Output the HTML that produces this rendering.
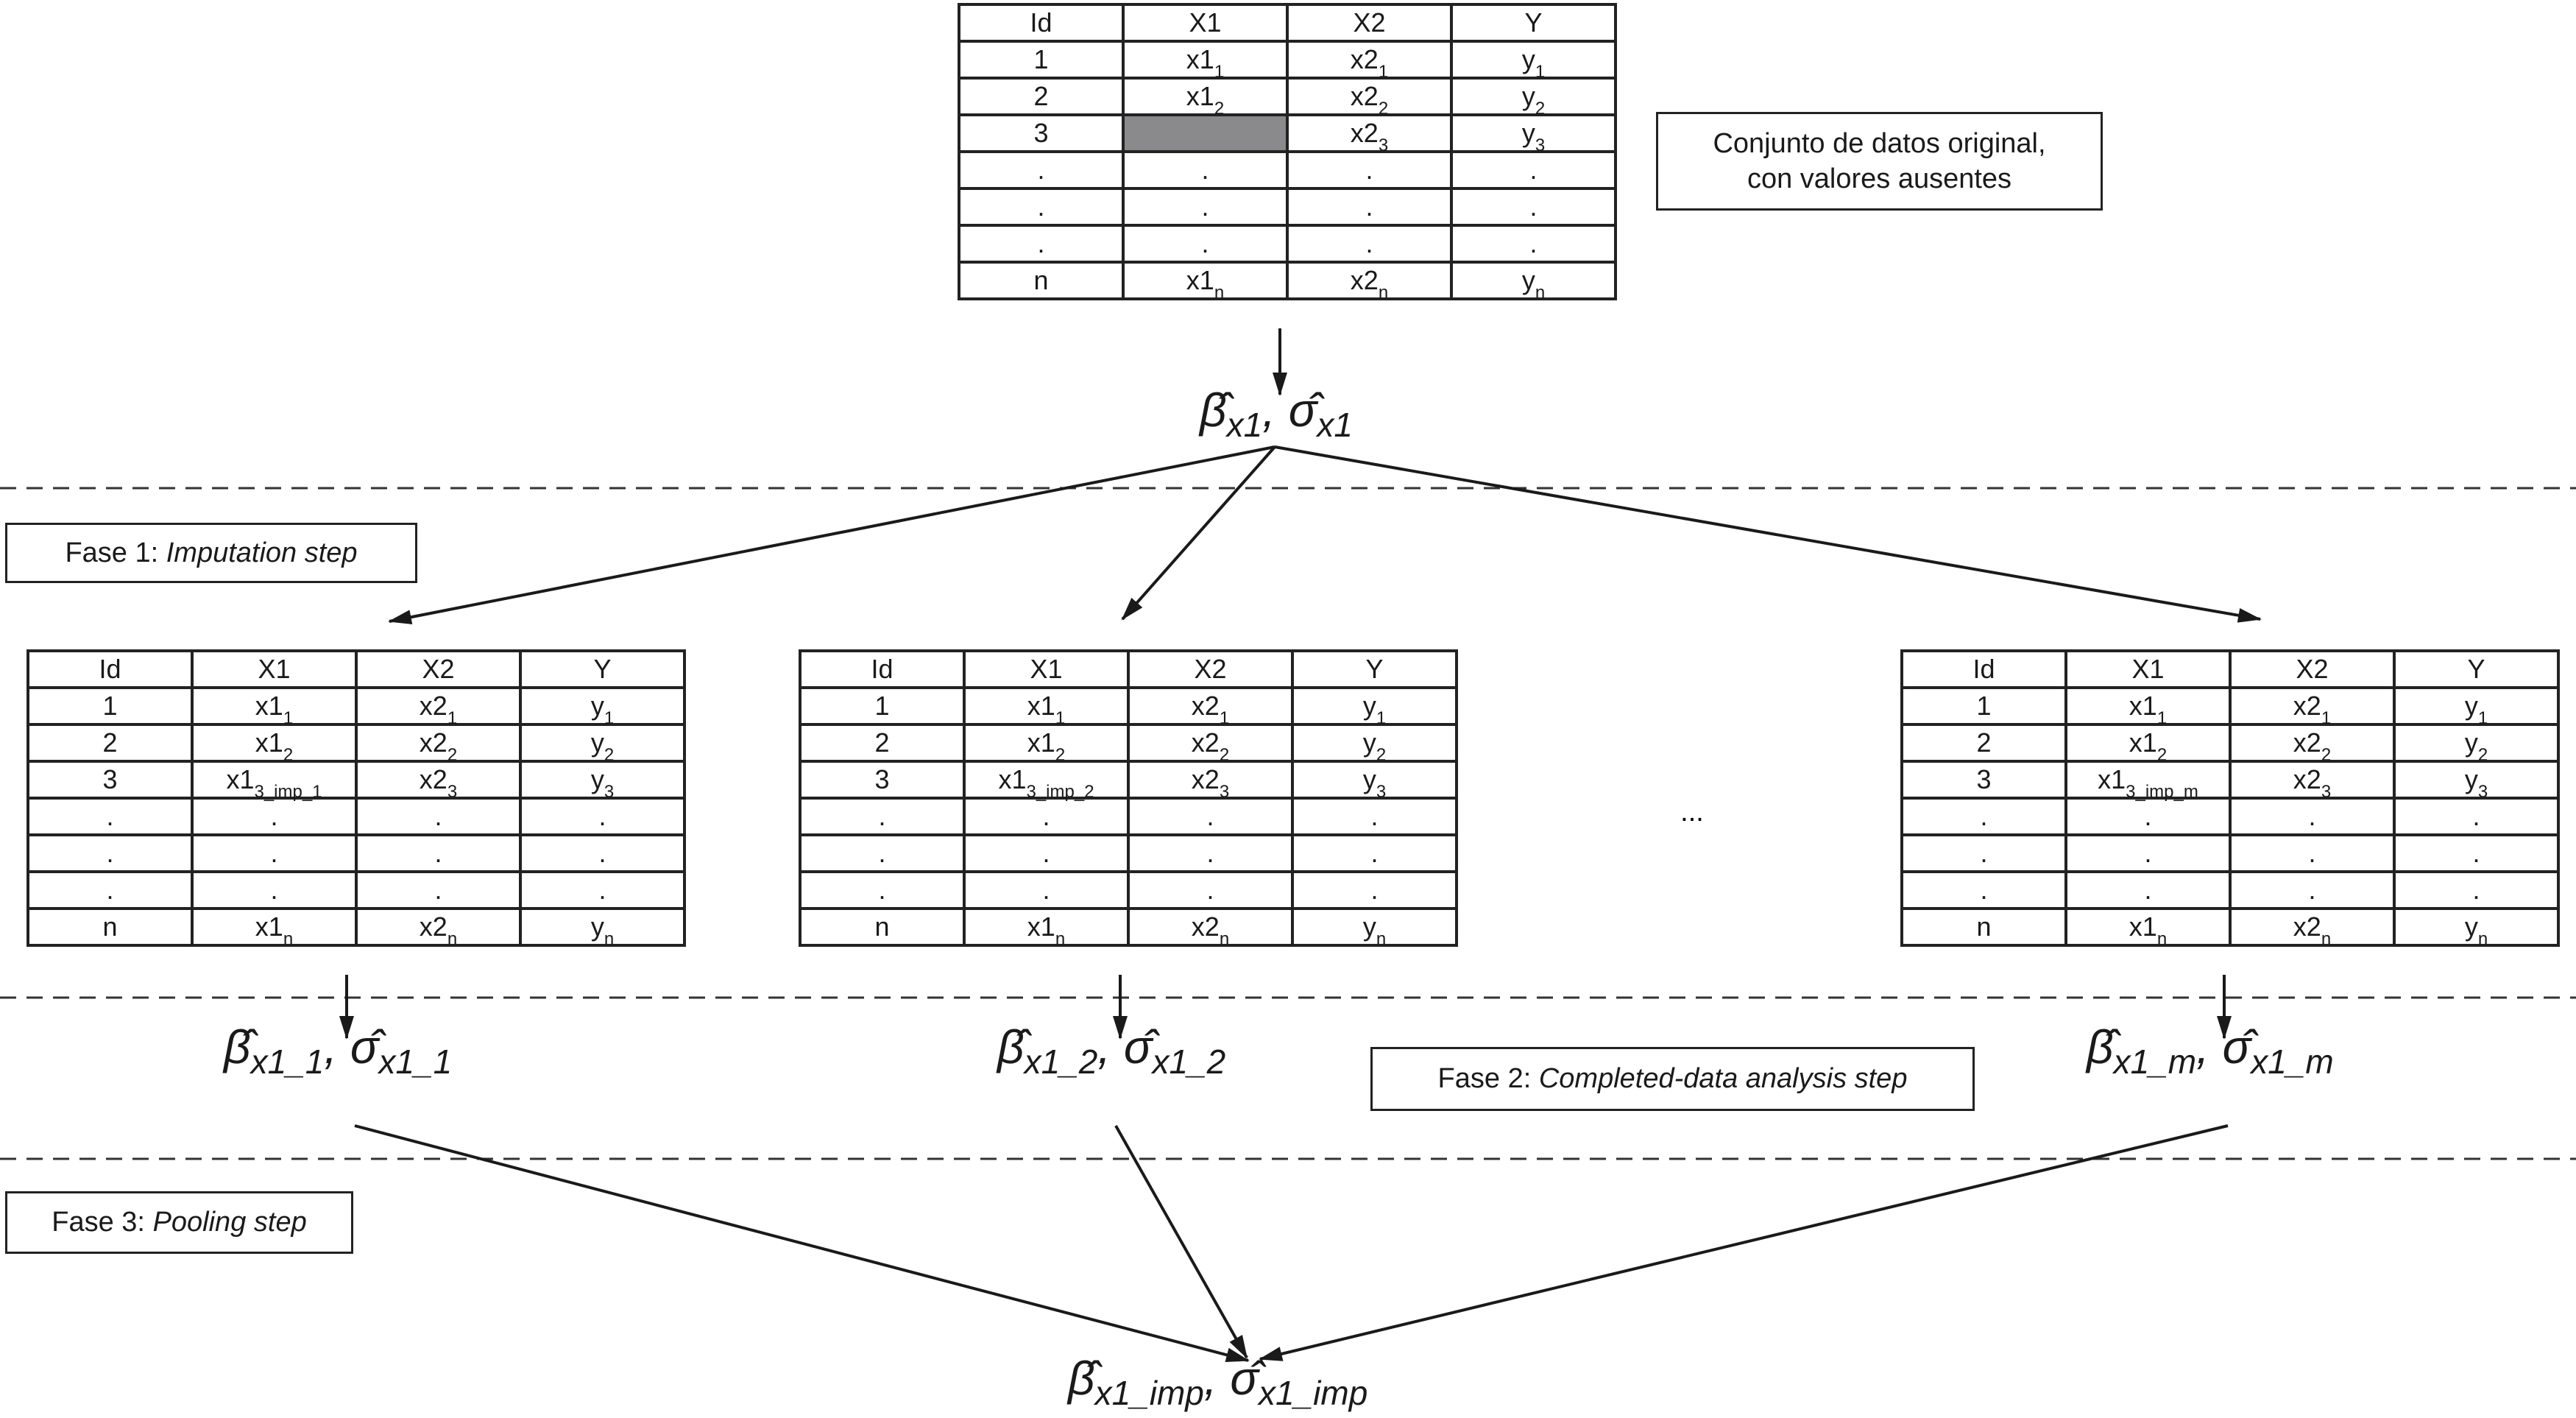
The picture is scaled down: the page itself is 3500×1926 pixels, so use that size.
<!DOCTYPE html>
<html><head><meta charset="utf-8"><style>
html,body{margin:0;padding:0;background:#fff}
body{width:3500px;height:1926px;position:relative;overflow:hidden;font-family:"Liberation Sans",sans-serif;color:#1a1a1a}
table{position:absolute;border-collapse:collapse;table-layout:fixed}
td{border:4px solid #222;height:46px;padding:0;text-align:center;font-size:36px;line-height:46px;width:219px}
sub{font-size:24px;vertical-align:-12px;line-height:0}
.box{position:absolute;border:3px solid #222;background:#fff;font-size:38px;text-align:center;box-sizing:border-box}
.m{position:absolute;font-style:italic;font-size:64px;white-space:nowrap;line-height:1}
.m sub{font-size:46px;vertical-align:-14px}
.g{background:#8a8a8c}
svg{position:absolute;left:0;top:0}
</style></head><body>
<svg width="3500" height="1926">
<defs><marker id="a" markerWidth="10" markerHeight="10" refX="9" refY="5" orient="auto" markerUnits="userSpaceOnUse" viewBox="0 0 10 10"><path d="M0,0 L10,5 L0,10 z" fill="#1a1a1a"/></marker>
<marker id="b" markerWidth="32" markerHeight="32" refX="30" refY="16" orient="auto" markerUnits="userSpaceOnUse"><path d="M0,6 L32,16 L0,26 z" fill="#1a1a1a"/></marker></defs>
<g stroke="#333" stroke-width="3" stroke-dasharray="22,14">
<line x1="0" y1="663" x2="3500" y2="663"/><line x1="0" y1="1355" x2="3500" y2="1355"/><line x1="0" y1="1574" x2="3500" y2="1574"/></g>
<g stroke="#1a1a1a" stroke-width="4" fill="none" marker-end="url(#b)">
<line x1="1739" y1="446" x2="1739" y2="536"/>
<line x1="1732" y1="607" x2="529" y2="844"/>
<line x1="1732" y1="607" x2="1525" y2="841"/>
<line x1="1732" y1="607" x2="3071" y2="841"/>
<line x1="471" y1="1324" x2="471" y2="1410"/>
<line x1="1522" y1="1324" x2="1522" y2="1410"/>
<line x1="3022" y1="1324" x2="3022" y2="1410"/>
<line x1="482" y1="1529" x2="1696" y2="1848"/>
<line x1="1516" y1="1529" x2="1694" y2="1844"/>
<line x1="3027" y1="1529" x2="1712" y2="1846"/>
</g>
<text x="2299" y="1115" font-size="38" text-anchor="middle" font-family="Liberation Sans">...</text>
</svg>

<table style="left:1301px;top:4px"><tr><td>Id</td><td>X1</td><td>X2</td><td>Y</td></tr>
<tr><td>1</td><td>x1<sub>1</sub></td><td>x2<sub>1</sub></td><td>y<sub>1</sub></td></tr>
<tr><td>2</td><td>x1<sub>2</sub></td><td>x2<sub>2</sub></td><td>y<sub>2</sub></td></tr>
<tr><td>3</td><td class="g"></td><td>x2<sub>3</sub></td><td>y<sub>3</sub></td></tr>
<tr><td>.</td><td>.</td><td>.</td><td>.</td></tr><tr><td>.</td><td>.</td><td>.</td><td>.</td></tr><tr><td>.</td><td>.</td><td>.</td><td>.</td></tr>
<tr><td>n</td><td>x1<sub>n</sub></td><td>x2<sub>n</sub></td><td>y<sub>n</sub></td></tr></table>

<table style="left:36px;top:882px"><tr><td>Id</td><td>X1</td><td>X2</td><td>Y</td></tr>
<tr><td>1</td><td>x1<sub>1</sub></td><td>x2<sub>1</sub></td><td>y<sub>1</sub></td></tr>
<tr><td>2</td><td>x1<sub>2</sub></td><td>x2<sub>2</sub></td><td>y<sub>2</sub></td></tr>
<tr><td>3</td><td>x1<sub>3_imp_1</sub></td><td>x2<sub>3</sub></td><td>y<sub>3</sub></td></tr>
<tr><td>.</td><td>.</td><td>.</td><td>.</td></tr><tr><td>.</td><td>.</td><td>.</td><td>.</td></tr><tr><td>.</td><td>.</td><td>.</td><td>.</td></tr>
<tr><td>n</td><td>x1<sub>n</sub></td><td>x2<sub>n</sub></td><td>y<sub>n</sub></td></tr></table>

<table style="left:1085px;top:882px"><tr><td>Id</td><td>X1</td><td>X2</td><td>Y</td></tr>
<tr><td>1</td><td>x1<sub>1</sub></td><td>x2<sub>1</sub></td><td>y<sub>1</sub></td></tr>
<tr><td>2</td><td>x1<sub>2</sub></td><td>x2<sub>2</sub></td><td>y<sub>2</sub></td></tr>
<tr><td>3</td><td>x1<sub>3_imp_2</sub></td><td>x2<sub>3</sub></td><td>y<sub>3</sub></td></tr>
<tr><td>.</td><td>.</td><td>.</td><td>.</td></tr><tr><td>.</td><td>.</td><td>.</td><td>.</td></tr><tr><td>.</td><td>.</td><td>.</td><td>.</td></tr>
<tr><td>n</td><td>x1<sub>n</sub></td><td>x2<sub>n</sub></td><td>y<sub>n</sub></td></tr></table>

<table style="left:2582px;top:882px"><tr><td>Id</td><td>X1</td><td>X2</td><td>Y</td></tr>
<tr><td>1</td><td>x1<sub>1</sub></td><td>x2<sub>1</sub></td><td>y<sub>1</sub></td></tr>
<tr><td>2</td><td>x1<sub>2</sub></td><td>x2<sub>2</sub></td><td>y<sub>2</sub></td></tr>
<tr><td>3</td><td>x1<sub>3_imp_m</sub></td><td>x2<sub>3</sub></td><td>y<sub>3</sub></td></tr>
<tr><td>.</td><td>.</td><td>.</td><td>.</td></tr><tr><td>.</td><td>.</td><td>.</td><td>.</td></tr><tr><td>.</td><td>.</td><td>.</td><td>.</td></tr>
<tr><td>n</td><td>x1<sub>n</sub></td><td>x2<sub>n</sub></td><td>y<sub>n</sub></td></tr></table>

<div class="box" style="left:2250px;top:152px;width:607px;height:134px;padding-top:16px;line-height:48px">Conjunto de datos original,<br>con valores ausentes</div>
<div class="box" style="left:7px;top:710px;width:560px;height:82px;line-height:76px">Fase 1: <i>Imputation step</i></div>
<div class="box" style="left:1862px;top:1422px;width:821px;height:87px;line-height:81px">Fase 2: <i>Completed-data analysis step</i></div>
<div class="box" style="left:7px;top:1618px;width:473px;height:85px;line-height:79px">Fase 3: <i>Pooling step</i></div>

<div class="m" style="left:1630px;top:525px">β̂<sub>x1</sub>, σ̂<sub>x1</sub></div>
<div class="m" style="left:304px;top:1390px">β̂<sub>x1_1</sub>, σ̂<sub>x1_1</sub></div>
<div class="m" style="left:1355px;top:1390px">β̂<sub>x1_2</sub>, σ̂<sub>x1_2</sub></div>
<div class="m" style="left:2835px;top:1390px">β̂<sub>x1_m</sub>, σ̂<sub>x1_m</sub></div>
<div class="m" style="left:1451px;top:1840px">β̂<sub>x1_imp</sub>, σ̂<sub>x1_imp</sub></div>
</body></html>
